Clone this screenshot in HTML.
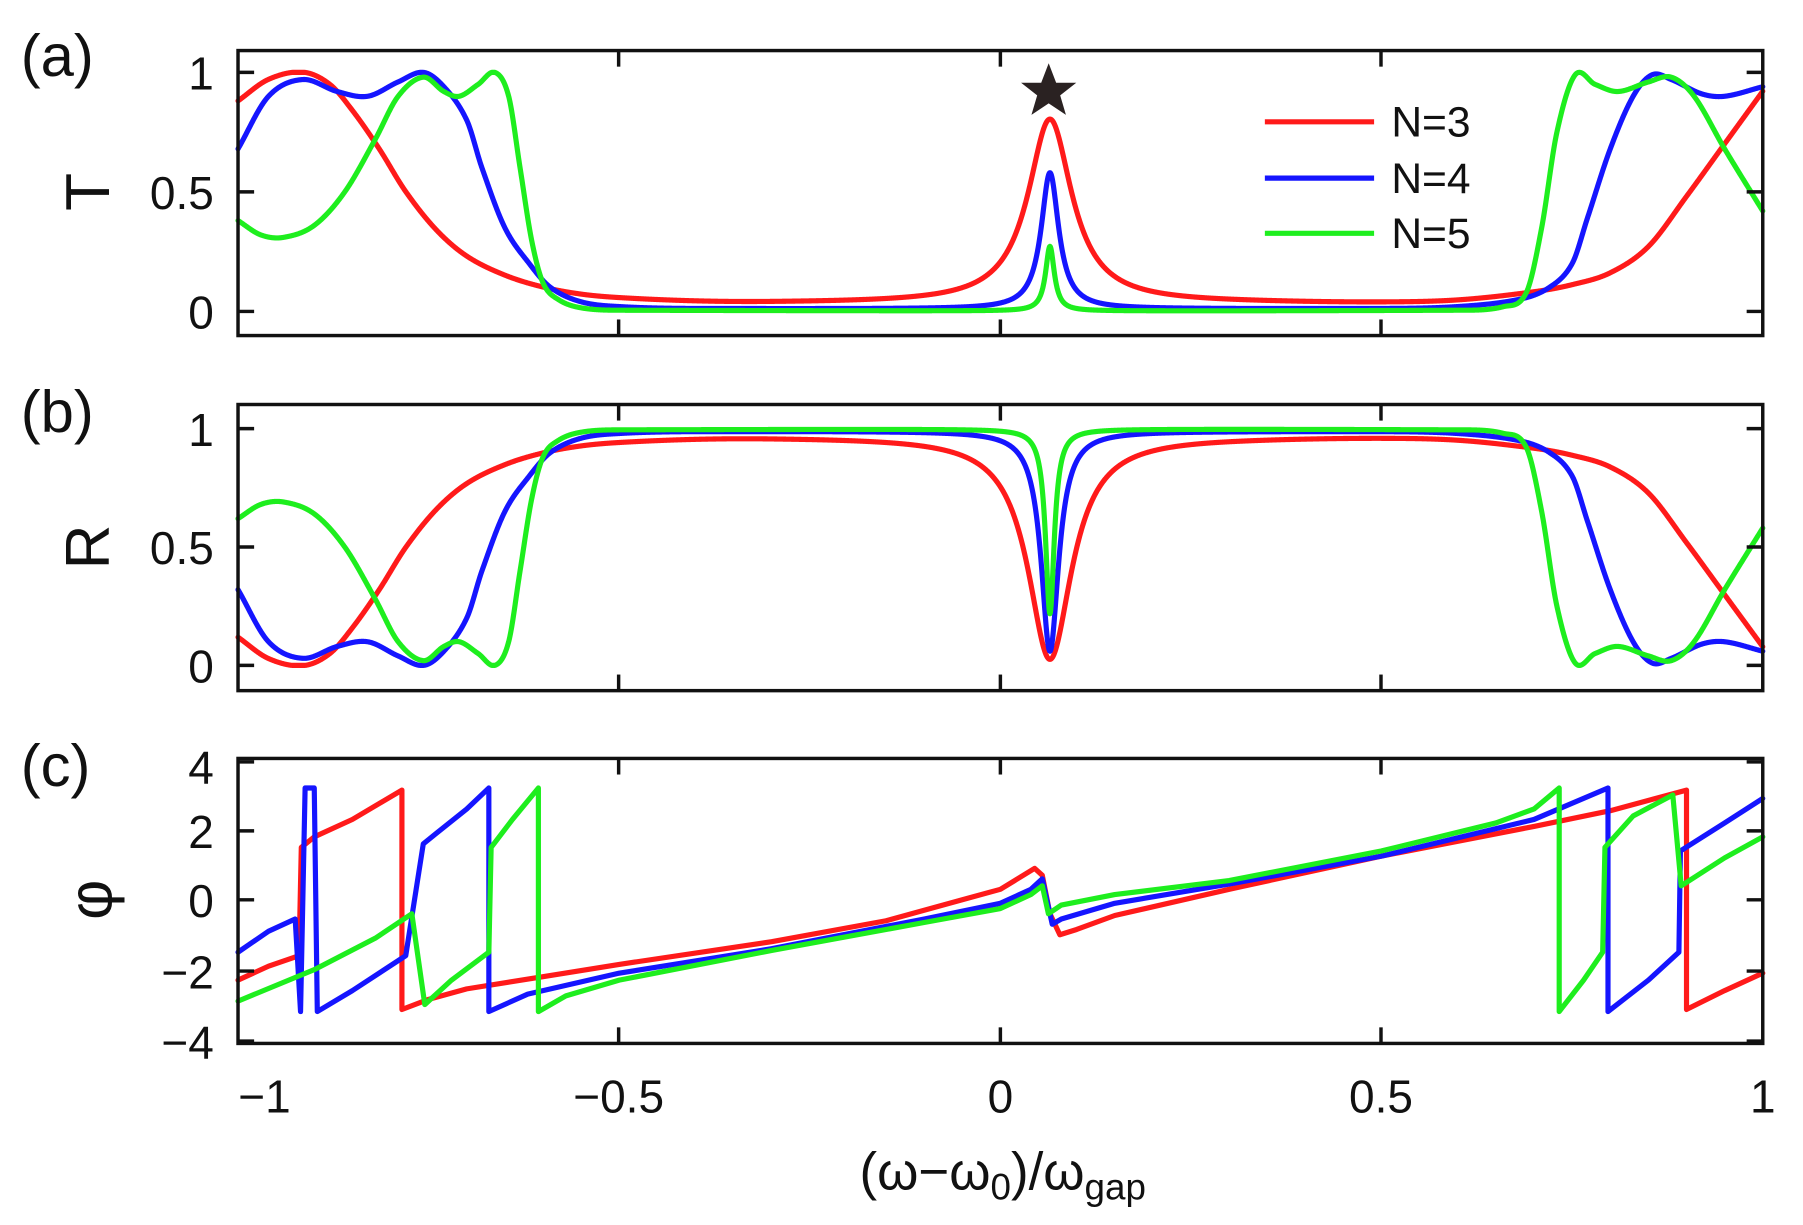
<!DOCTYPE html>
<html><head><meta charset="utf-8"><style>
html,body{margin:0;padding:0;background:#fff;}
svg{display:block;}
text{font-family:"Liberation Sans",sans-serif;fill:#111;}
</style></head><body>
<svg id="s" width="1803" height="1225" viewBox="0 0 1568 1066" preserveAspectRatio="none" xmlns="http://www.w3.org/2000/svg">
<g id="curves" fill="none" stroke-width="4.5" stroke-linejoin="round" stroke-linecap="round"></g>
<g id="frames" fill="none" stroke="#111" stroke-width="3"></g>
<polygon points="912,55 918.5,72 936,72 922,83 927,100 912,90 897,100 902,83 888,72 905.5,72" fill="#2a2222"/>
<line x1="1100" y1="106" x2="1195" y2="106" stroke="#ff1a1a" stroke-width="4.5"/>
<line x1="1100" y1="155" x2="1195" y2="155" stroke="#1515ff" stroke-width="4.5"/>
<line x1="1100" y1="203" x2="1195" y2="203" stroke="#1eee1e" stroke-width="4.5"/>
<text x="1210" y="119" font-size="37">N=3</text>
<text x="1210" y="168" font-size="37">N=4</text>
<text x="1210" y="216" font-size="37">N=5</text>
<text x="18" y="66" font-size="52">(a)</text>
<text x="18" y="376" font-size="52">(b)</text>
<text x="18" y="684" font-size="52">(c)</text>
<text transform="translate(95,167) rotate(-90)" text-anchor="middle" font-size="54">T</text>
<text transform="translate(95,476) rotate(-90)" text-anchor="middle" font-size="54">R</text>
<text transform="translate(97,783) rotate(-90)" text-anchor="middle" font-size="54">φ</text>
<g font-size="40" text-anchor="end">
<text x="186" y="78">1</text><text x="186" y="182">0.5</text><text x="186" y="286">0</text>
<text x="186" y="388">1</text><text x="186" y="491">0.5</text><text x="186" y="594">0</text>
<text x="186" y="682">4</text><text x="186" y="738">2</text><text x="186" y="798">0</text><text x="186" y="860">−2</text><text x="186" y="921">−4</text>
</g>
<g font-size="40" text-anchor="middle">
<text x="230" y="968">−1</text><text x="538" y="968">−0.5</text><text x="870" y="968">0</text><text x="1201" y="968">0.5</text><text x="1533" y="968">1</text>
</g>
<text x="872" y="1035" font-size="46" text-anchor="middle">(ω−ω<tspan font-size="32" dy="9">0</tspan><tspan dy="-9">)/ω</tspan><tspan font-size="32" dy="9">gap</tspan></text>
</svg>
<script>
const X=x=>207+(x+1)*663;
const NS="http://www.w3.org/2000/svg";
const C={r:"#ff1a1a",b:"#1515ff",g:"#1eee1e"};
function interp(pts,x){
 for(let i=0;i<pts.length-1;i++){
  if(x<=pts[i+1][0]){
   const p0=pts[Math.max(i-1,0)],p1=pts[i],p2=pts[i+1],p3=pts[Math.min(i+2,pts.length-1)];
   const h=p2[0]-p1[0]; if(h<=0) return p2[1];
   const t=(x-p1[0])/h;
   const m1=(p2[1]-p0[1])/((p2[0]-p0[0])||1)*h;
   const m2=(p3[1]-p1[1])/((p3[0]-p1[0])||1)*h;
   const t2=t*t,t3=t2*t;
   return (2*t3-3*t2+1)*p1[1]+(t3-2*t2+t)*m1+(-2*t3+3*t2)*p2[1]+(t3-t2)*m2;
  }}
 return pts[pts.length-1][1];
}
const T={
r:{p:[[-1,0.88],[-0.96,0.97],[-0.915,1.0],[-0.88,0.95],[-0.85,0.84],[-0.815,0.68],[-0.78,0.5],[-0.74,0.34],[-0.7,0.23],[-0.65,0.15],[-0.6,0.1],[-0.55,0.07],[-0.5,0.055],[-0.4,0.04],[-0.3,0.035],[0.3,0.035],[0.5,0.035],[0.6,0.045],[0.7,0.08],[0.75,0.11],[0.8,0.16],[0.85,0.27],[0.9,0.48],[0.95,0.7],[1,0.92]],a:0.77,w:0.035,ra:0.94},
b:{p:[[-1,0.68],[-0.96,0.9],[-0.915,0.97],[-0.87,0.92],[-0.83,0.9],[-0.79,0.96],[-0.757,1.0],[-0.73,0.94],[-0.7,0.8],[-0.68,0.6],[-0.65,0.35],[-0.618,0.2],[-0.59,0.1],[-0.55,0.04],[-0.5,0.02],[-0.4,0.012],[0.5,0.012],[0.6,0.02],[0.68,0.05],[0.72,0.1],[0.75,0.2],[0.77,0.39],[0.8,0.68],[0.83,0.9],[0.855,0.99],[0.88,0.97],[0.92,0.91],[0.95,0.9],[1,0.94]],a:0.57,w:0.014,ra:0.93},
g:{p:[[-1,0.38],[-0.97,0.32],[-0.94,0.31],[-0.9,0.36],[-0.86,0.5],[-0.82,0.72],[-0.79,0.9],[-0.757,0.98],[-0.73,0.92],[-0.71,0.9],[-0.685,0.95],[-0.663,1.0],[-0.645,0.9],[-0.63,0.6],[-0.615,0.3],[-0.6,0.12],[-0.58,0.05],[-0.55,0.015],[-0.5,0.005],[0.6,0.005],[0.66,0.02],[0.69,0.08],[0.71,0.35],[0.73,0.75],[0.754,0.99],[0.78,0.95],[0.81,0.92],[0.85,0.96],[0.88,0.98],[0.91,0.9],[0.95,0.68],[1,0.42]],a:0.27,w:0.007,ra:0.78}
};
const G=document.getElementById("curves");
function add(d,col){const p=document.createElementNS(NS,"path");p.setAttribute("d",d);p.setAttribute("stroke",col);G.appendChild(p);}
["r","b","g"].forEach(k=>{
 const o=T[k];
 let da="",db="";
 for(let i=0;i<=4000;i++){const x=-1+2*i/4000;const base=interp(o.p,x);const d=(x-0.065)/o.w;const L=1/(1+d*d);
  const t=Math.min(1,Math.max(0,base+o.a*L));
  const r=Math.min(1,Math.max(0,(1-base)-o.ra*L));
  da+=(i?"L":"M")+X(x).toFixed(2)+","+(271-t*208).toFixed(2);
  db+=(i?"L":"M")+X(x).toFixed(2)+","+(579-r*206).toFixed(2);}
 add(da,C[k]);add(db,C[k]);
});
const P={
r:[[-1,-2.3],[-0.96,-1.9],[-0.92,-1.6],[-0.917,1.5],[-0.9,1.8],[-0.85,2.3],[-0.785,3.14],[-0.785,-3.14],[-0.75,-2.85],[-0.7,-2.55],[-0.6,-2.2],[-0.5,-1.85],[-0.3,-1.2],[-0.15,-0.6],[-0.05,0],[0,0.3],[0.03,0.7],[0.045,0.9],[0.055,0.7],[0.065,-0.4],[0.078,-1.0],[0.1,-0.85],[0.15,-0.45],[0.3,0.3],[0.5,1.25],[0.7,2.1],[0.8,2.55],[0.9,3.14],[0.9,-3.14],[0.95,-2.6],[1,-2.1]],
b:[[-1,-1.5],[-0.96,-0.9],[-0.925,-0.55],[-0.918,-3.2],[-0.912,3.2],[-0.9,3.2],[-0.896,-3.2],[-0.85,-2.6],[-0.78,-1.6],[-0.757,1.6],[-0.74,1.9],[-0.7,2.6],[-0.671,3.2],[-0.671,-3.2],[-0.62,-2.7],[-0.5,-2.1],[-0.3,-1.4],[-0.1,-0.55],[0,-0.1],[0.04,0.3],[0.055,0.6],[0.068,-0.7],[0.08,-0.55],[0.15,-0.1],[0.3,0.45],[0.5,1.25],[0.7,2.3],[0.797,3.2],[0.797,-3.2],[0.85,-2.3],[0.89,-1.5],[0.892,1.4],[0.95,2.2],[1,2.9]],
g:[[-1,-2.9],[-0.9,-2.0],[-0.82,-1.1],[-0.772,-0.4],[-0.755,-3.0],[-0.72,-2.3],[-0.671,-1.5],[-0.668,1.5],[-0.64,2.3],[-0.606,3.2],[-0.606,-3.2],[-0.57,-2.75],[-0.5,-2.3],[-0.3,-1.45],[-0.1,-0.65],[0,-0.25],[0.04,0.15],[0.055,0.4],[0.063,-0.4],[0.08,-0.15],[0.15,0.15],[0.3,0.55],[0.5,1.4],[0.65,2.2],[0.7,2.6],[0.733,3.2],[0.733,-3.2],[0.765,-2.3],[0.79,-1.5],[0.793,1.5],[0.83,2.4],[0.882,3.0],[0.893,0.4],[0.95,1.2],[1,1.8]]
};
["r","b","g"].forEach(k=>{
 add(P[k].map((p,i)=>(i?"L":"M")+X(p[0]).toFixed(2)+","+(783-p[1]*30.4).toFixed(2)).join(""),C[k]);
});
const F=document.getElementById("frames");
function ln(x1,y1,x2,y2){const l=document.createElementNS(NS,"line");l.setAttribute("x1",x1);l.setAttribute("y1",y1);l.setAttribute("x2",x2);l.setAttribute("y2",y2);F.appendChild(l);}
[[44,292,[63,167,271]],[352,601,[373,476,579]],[660,908,[663,723,783,845,906]]].forEach(([t,b,ys])=>{
 const r=document.createElementNS(NS,"rect");r.setAttribute("x",207);r.setAttribute("y",t);r.setAttribute("width",1326);r.setAttribute("height",b-t);F.appendChild(r);
 [538,870,1201].forEach(x=>{ln(x,t,x,t+14);ln(x,b,x,b-14);});
 ys.forEach(y=>{ln(207,y,221,y);ln(1533,y,1519,y);});
});
</script>
</body></html>
